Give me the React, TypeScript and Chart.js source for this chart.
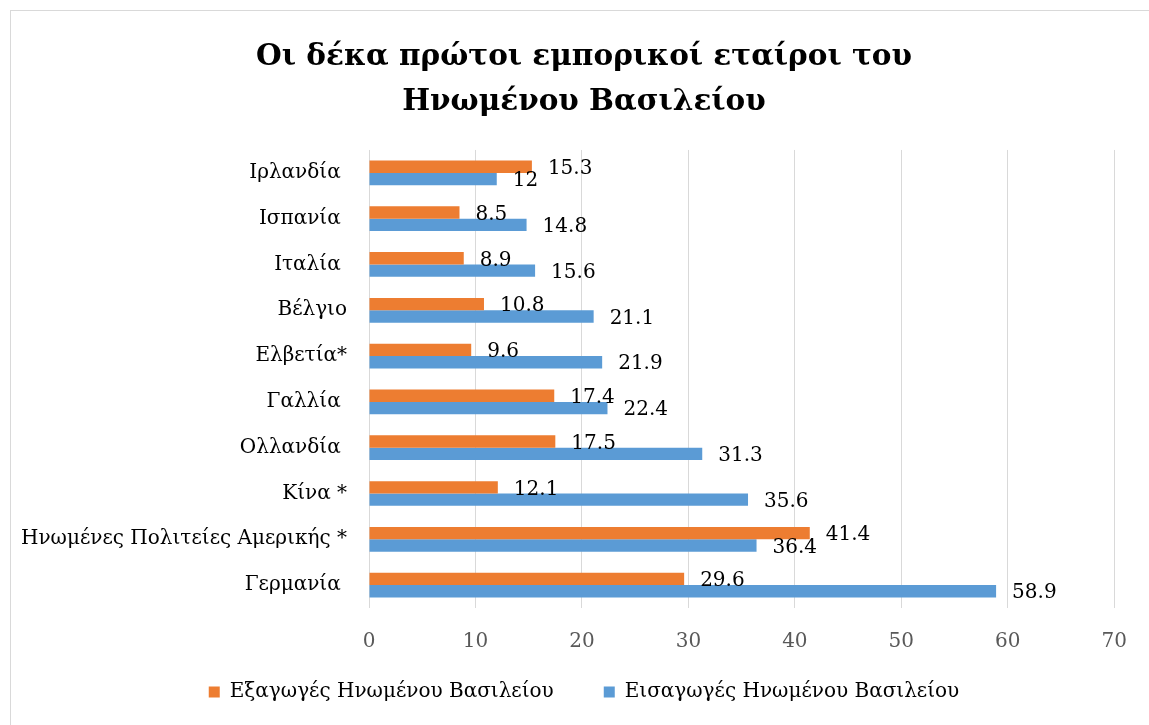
import React, { useEffect, useRef } from "react";
import { Chart, registerables } from "chart.js";

Chart.register(...registerables);

const categories = [
  "Ιρλανδία ",
  "Ισπανία ",
  "Ιταλία ",
  "Βέλγιο",
  "Ελβετία*",
  "Γαλλία ",
  "Ολλανδία ",
  "Κίνα *",
  "Ηνωμένες Πολιτείες Αμερικής *",
  "Γερμανία ",
];
const exportsUK = [15.3, 8.5, 8.9, 10.8, 9.6, 17.4, 17.5, 12.1, 41.4, 29.6];
const importsUK = [12, 14.8, 15.6, 21.1, 21.9, 22.4, 31.3, 35.6, 36.4, 58.9];
const seriesNames = ["Εξαγωγές Ηνωμένου Βασιλείου", "Εισαγωγές Ηνωμένου Βασιλείου"];
const titleLines = ["Οι δέκα πρώτοι εμπορικοί εταίροι του", "Ηνωμένου Βασιλείου"];

const FONT = "'DejaVu Serif', serif";

const frame = {
  id: "frame",
  beforeDraw(chart: any) {
    const ctx = chart.ctx;
    ctx.save();
    ctx.fillStyle = "#ffffff";
    ctx.fillRect(0, 0, chart.width, chart.height);
    ctx.strokeStyle = "#d9d9d9";
    ctx.lineWidth = 1;
    ctx.strokeRect(10.5, 10.5, 1148, 800);
    ctx.restore();
  },
};

const legendTune = {
  id: "legendTune",
  beforeLayout(chart: any) {
    const lg = chart.legend;
    if (lg && !lg.__tuned) {
      const orig = lg.fit;
      lg.fit = function (this: any) {
        orig.call(this);
        this.height = 72;
      };
      lg.__tuned = true;
    }
  },
  afterLayout(chart: any) {
    const lg = chart.legend;
    if (lg) {
      lg.top -= 20;
      lg.bottom -= 20;
    }
  },
};

const valueLabels = {
  id: "valueLabels",
  afterDatasetsDraw(chart: any) {
    const ctx = chart.ctx;
    ctx.save();
    ctx.font = `20px ${FONT}`;
    ctx.fillStyle = "#000000";
    ctx.textAlign = "left";
    ctx.textBaseline = "middle";
    chart.data.datasets.forEach((ds: any, i: number) => {
      const meta = chart.getDatasetMeta(i);
      meta.data.forEach((el: any, j: number) => {
        ctx.fillText(String(ds.data[j]), el.x + 16, el.y + 2);
      });
    });
    ctx.restore();
  },
};

export default function App() {
  const ref = useRef<HTMLCanvasElement>(null);
  useEffect(() => {
    if (!ref.current) return;
    const chart = new Chart(ref.current, {
      type: "bar",
      data: {
        labels: categories,
        datasets: [
          {
            label: seriesNames[0],
            data: exportsUK,
            backgroundColor: "#ED7D31",
            barPercentage: 1,
            categoryPercentage: 0.54,
            yAxisID: "y",
          },
          {
            label: seriesNames[1],
            data: importsUK,
            backgroundColor: "#5B9BD5",
            barPercentage: 1,
            categoryPercentage: 0.54,
            yAxisID: "y",
          },
        ],
      },
      options: {
        indexAxis: "y",
        responsive: false,
        animation: false,
        layout: { padding: { left: 20, right: 1, top: 0, bottom: 1 } },
        scales: {
          x: {
            min: 0,
            max: 70,
            ticks: { stepSize: 10, color: "#595959", font: { family: FONT, size: 20 }, padding: 22 },
            grid: { color: "#d9d9d9", drawTicks: false },
            border: { display: false },
            afterFit: (scale: any) => {
              scale.height = 44;
            },
          },
          y: {
            ticks: { color: "#000000", font: { family: FONT, size: 20 }, padding: 22 },
            grid: { display: false, drawTicks: false },
            border: { display: false },
            afterFit: (scale: any) => {
              scale.width = 349;
            },
          },
          yr: {
            type: "category",
            position: "right",
            ticks: { display: false },
            grid: { display: false, drawTicks: false },
            border: { display: false },
            afterFit: (scale: any) => {
              scale.width = 32;
            },
          },
        },
        plugins: {
          title: {
            display: true,
            text: titleLines,
            color: "#000000",
            font: { family: FONT, size: 29.5, weight: "bold", lineHeight: 1.525 },
            padding: { top: 35, bottom: 25 },
          },
          legend: {
            position: "bottom",
            labels: {
              boxWidth: 11,
              boxHeight: 11,
              color: "#000000",
              font: { family: FONT, size: 20 },
              padding: 50,
            },
          },
          tooltip: { enabled: false },
        },
      },
      plugins: [frame, legendTune, valueLabels],
    });
    return () => chart.destroy();
  }, []);
  return (
    <div style={{ position: "fixed", left: 0, top: 0, width: 1149, height: 725, overflow: "hidden", background: "#fff" }}>
      <canvas ref={ref} width={1149} height={725} style={{ display: "block" }} />
    </div>
  );
}
